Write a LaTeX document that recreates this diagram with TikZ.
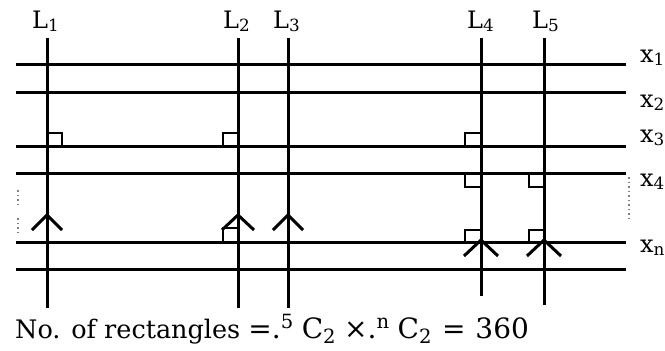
\documentclass[tikz,border=0pt]{standalone}
\usepackage{fontspec}
\setmainfont{DejaVu Serif}
\usetikzlibrary{calc}
\newcommand{\dn}[1]{\textsubscript{#1}}

\begin{document}
\begin{tikzpicture}[x=1pt,y=-1pt,
  ln/.style={line width=3pt},
  rt/.style={line width=2.4pt},
  dots/.style={line width=2.2pt,dash pattern=on 1.5pt off 3pt,gray},
  lbl/.style={inner sep=0pt,anchor=base west,font=\fontsize{24}{26}\selectfont}]
 \useasboundingbox (0,0) rectangle (665,351);
 % horizontal lines x_1 ... x_n
 \coordinate (hl) at (16,0); \coordinate (hr) at (626,0);
 \draw[ln] ($(hl)+(0,64)$)--($(hr)+(0,64)$);
 \draw[ln] ($(hl)+(0,92)$)--($(hr)+(0,92)$);
 \draw[ln] ($(hl)+(0,146)$)--($(hr)+(0,146)$);
 \draw[ln] ($(hl)+(0,173)$)--($(hr)+(0,173)$);
 \draw[ln] ($(hl)+(0,242)$)--($(hr)+(0,242)$);
 \draw[ln] ($(hl)+(0,269)$)--($(hr)+(0,269)$);
 % vertical lines L_1 ... L_5
 \coordinate (La) at (47,38); \coordinate (Lb) at (238,38); \coordinate (Lc) at (288,38);
 \coordinate (Ld) at (481,38); \coordinate (Le) at (544,38);
 \draw[ln] (La)--($(La)+(0,270)$); \draw[ln] (Lb)--($(Lb)+(0,270)$); \draw[ln] (Lc)--($(Lc)+(0,270)$);
 \draw[ln] (Ld)--($(Ld)+(0,258)$); \draw[ln] (Le)--($(Le)+(0,267)$);
 \node[lbl] (tLa) at (32,28) {L\dn{1}}; \node[lbl] (tLb) at (223,28) {L\dn{2}};
 \node[lbl] (tLc) at (273,28) {L\dn{3}}; \node[lbl] (tLd) at (467,28) {L\dn{4}};
 \node[lbl] (tLe) at (532,28) {L\dn{5}};
 % right angles
 \draw[rt] (47,133) rectangle (62,146); \draw[rt] (223,133) rectangle (238,146);
 \draw[rt] (465,133) rectangle (481,146);
 \draw[rt] (465,173) rectangle (481,187); \draw[rt] (529,173) rectangle (544,187);
 \draw[rt] (223,228) rectangle (238,242);
 \draw[rt] (465,230) rectangle (481,242); \draw[rt] (529,230) rectangle (544,242);
 % arrow marks
 \draw[ln] ($(La)+(-15,192)$)--($(La)+(0,177)$)--($(La)+(15,192)$);
 \draw[ln] ($(Lb)+(-16,192)$)--($(Lb)+(0,177)$)--($(Lb)+(16,192)$);
 \draw[ln] ($(Lc)+(-15,192)$)--($(Lc)+(0,177)$)--($(Lc)+(15,192)$);
 \draw[ln] ($(Ld)+(-17,218)$)--($(Ld)+(0,202)$)--($(Ld)+(17,218)$);
 \draw[ln] ($(Le)+(-17,218)$)--($(Le)+(0,202)$)--($(Le)+(17,218)$);
 % dots
 \draw[dots] (18,190)--(18,207); \draw[dots] (18,218)--(18,234);
 \draw[dots] (629,177)--(629,222);
 \node[lbl] (xa) at (640,62) {x\dn{1}}; \node[lbl] (xb) at (640,107) {x\dn{2}};
 \node[lbl] (xc) at (640,142) {x\dn{3}}; \node[lbl] (xd) at (640,186) {x\dn{4}};
 \node[lbl] (xe) at (640,252) {x\dn{n}};
 \node[inner sep=0pt,anchor=base west,font=\fontsize{25.5}{28}\selectfont] (res) at (15,338)
   {No. of rectangles {\fontsize{28}{30}\selectfont=.\textsuperscript{5}\hspace{8pt}C\dn{2}\hspace{8pt}×.\textsuperscript{n}\hspace{8pt}C\dn{2}\hspace{10pt}=\hspace{10pt}360}};
\end{tikzpicture}
\end{document}
